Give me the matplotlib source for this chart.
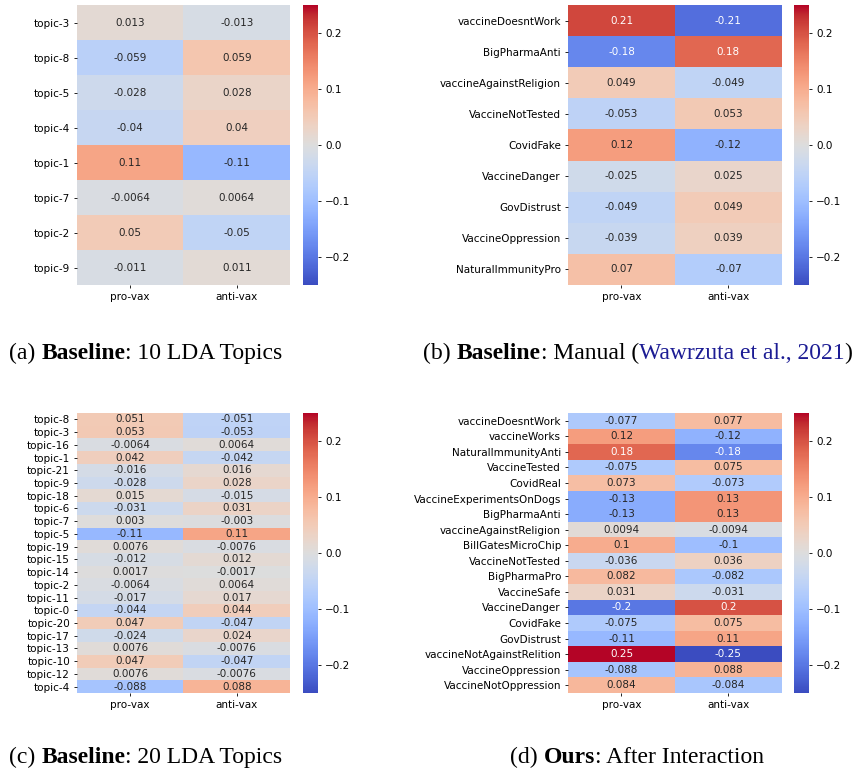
import matplotlib
matplotlib.use("Agg")
from matplotlib import pyplot as plt
from matplotlib.colors import Normalize
import numpy as np

# topic / stance correlations for each model
cols = ["pro-vax", "anti-vax"]

lda10_rows = ["topic-3", "topic-8", "topic-5", "topic-4", "topic-1", "topic-7", "topic-2", "topic-9"]
lda10_pro = [0.013, -0.059, -0.028, -0.04, 0.11, -0.0064, 0.05, -0.011]
lda10_anti = [-0.013, 0.059, 0.028, 0.04, -0.11, 0.0064, -0.05, 0.011]

manual_rows = ["vaccineDoesntWork", "BigPharmaAnti", "vaccineAgainstReligion", "VaccineNotTested",
               "CovidFake", "VaccineDanger", "GovDistrust", "VaccineOppression", "NaturalImmunityPro"]
manual_pro = [0.21, -0.18, 0.049, -0.053, 0.12, -0.025, -0.049, -0.039, 0.07]
manual_anti = [-0.21, 0.18, -0.049, 0.053, -0.12, 0.025, 0.049, 0.039, -0.07]

lda20_rows = ["topic-8", "topic-3", "topic-16", "topic-1", "topic-21", "topic-9", "topic-18", "topic-6",
              "topic-7", "topic-5", "topic-19", "topic-15", "topic-14", "topic-2", "topic-11", "topic-0",
              "topic-20", "topic-17", "topic-13", "topic-10", "topic-12", "topic-4"]
lda20_pro = [0.051, 0.053, -0.0064, 0.042, -0.016, -0.028, 0.015, -0.031, 0.003, -0.11, 0.0076,
             -0.012, 0.0017, -0.0064, -0.017, -0.044, 0.047, -0.024, 0.0076, 0.047, 0.0076, -0.088]
lda20_anti = [-0.051, -0.053, 0.0064, -0.042, 0.016, 0.028, -0.015, 0.031, -0.003, 0.11, -0.0076,
              0.012, -0.0017, 0.0064, 0.017, 0.044, -0.047, 0.024, -0.0076, -0.047, -0.0076, 0.088]

ours_rows = ["vaccineDoesntWork", "vaccineWorks", "NaturalImmunityAnti", "VaccineTested", "CovidReal",
             "VaccineExperimentsOnDogs", "BigPharmaAnti", "vaccineAgainstReligion", "BillGatesMicroChip",
             "VaccineNotTested", "BigPharmaPro", "VaccineSafe", "VaccineDanger", "CovidFake",
             "GovDistrust", "vaccineNotAgainstRelition", "VaccineOppression", "VaccineNotOppression"]
ours_pro = [-0.077, 0.12, 0.18, -0.075, 0.073, -0.13, -0.13, 0.0094, 0.1, -0.036, 0.082, 0.031,
            -0.2, -0.075, -0.11, 0.25, -0.088, 0.084]
ours_anti = [0.077, -0.12, -0.18, 0.075, -0.073, 0.13, 0.13, -0.0094, -0.1, 0.036, -0.082, -0.031,
             0.2, 0.075, 0.11, -0.25, 0.088, -0.084]

cmap = plt.get_cmap("coolwarm")
norm = Normalize(vmin=-0.25, vmax=0.25)
FS = 7.5

plt.rcParams["xtick.major.size"] = 2.5
plt.rcParams["ytick.major.size"] = 2.5
plt.rcParams["xtick.major.width"] = 0.6
plt.rcParams["ytick.major.width"] = 0.6
plt.rcParams["xtick.major.pad"] = 2.5
plt.rcParams["ytick.major.pad"] = 2.5

fig = plt.figure(figsize=(8.59, 7.76), dpi=100)


def luminance(rgba):
    rgb = np.array(rgba[:3])
    rgb = np.where(rgb <= .03928, rgb / 12.92, ((rgb + .055) / 1.055) ** 2.4)
    return rgb.dot([.2126, .7152, .0722])


def heatmap(rect, cbrect, rows, pro, anti):
    ax = fig.add_axes(rect)
    data = np.column_stack([pro, anti])
    ax.pcolormesh(data, cmap=cmap, norm=norm)
    ax.set_xlim(0, 2)
    ax.set_ylim(len(rows), 0)
    for s in ax.spines.values():
        s.set_visible(False)
    ax.set_xticks(np.arange(2) + 0.5)
    ax.set_xticklabels(cols, fontsize=FS)
    ax.set_yticks(np.arange(len(rows)) + 0.5)
    ax.set_yticklabels(rows, fontsize=FS)
    for i in range(len(rows)):
        for j in range(2):
            v = data[i, j]
            c = ".15" if luminance(cmap(norm(v))) > .408 else "w"
            ax.text(j + 0.5, i + 0.5, "{:.2g}".format(v), ha="center", va="center",
                    fontsize=FS, color=c)
    cax = fig.add_axes(cbrect)
    cb = fig.colorbar(plt.cm.ScalarMappable(norm=norm, cmap=cmap), cax=cax)
    cb.outline.set_visible(False)
    cb.set_ticks([-0.2, -0.1, 0.0, 0.1, 0.2])
    cax.tick_params(labelsize=FS)
    return ax


top_b, top_h = 0.6327, 0.3608
bot_b = 0.1070
heatmap([0.0896, top_b, 0.248, top_h], [0.3527, top_b, 0.0175, top_h], lda10_rows, lda10_pro, lda10_anti)
heatmap([0.6612, top_b, 0.249, top_h], [0.9243, top_b, 0.0175, top_h], manual_rows, manual_pro, manual_anti)
heatmap([0.0896, bot_b, 0.248, top_h], [0.3527, bot_b, 0.0175, top_h], lda20_rows, lda20_pro, lda20_anti)
heatmap([0.6612, bot_b, 0.249, top_h], [0.9243, bot_b, 0.0175, top_h], ours_rows, ours_pro, ours_anti)


# captions: each run is anchored to the right edge of the previous one
def caption(x, y, parts):
    prev = None
    for s, w, c in parts:
        kw = dict(fontsize=17.0, family="Liberation Serif", fontweight=w, color=c)
        if prev is None:
            prev = fig.text(x, y, s, va="baseline", ha="left", **kw)
        else:
            prev = fig.add_artist(plt.Annotation(s, xy=(1, 0), xycoords=prev,
                                                 va="bottom", ha="left", **kw))


blue = "#1c1c94"
caption(0.0105, 1 - 359 / 776, [("(a) ", "normal", "k"), ("Baseline", "bold", "k"),
                                (": 10 LDA Topics", "normal", "k")])
caption(0.4925, 1 - 359 / 776, [("(b) ", "normal", "k"), ("Baseline", "bold", "k"),
                                (": Manual (", "normal", "k"),
                                ("Wawrzuta et al., 2021", "normal", blue),
                                (")", "normal", "k")])
caption(0.0105, 1 - 763 / 776, [("(c) ", "normal", "k"), ("Baseline", "bold", "k"),
                                (": 20 LDA Topics", "normal", "k")])
caption(0.594, 1 - 763 / 776, [("(d) ", "normal", "k"), ("Ours", "bold", "k"),
                               (": After Interaction", "normal", "k")])

fig.savefig("out.png", dpi=100)
